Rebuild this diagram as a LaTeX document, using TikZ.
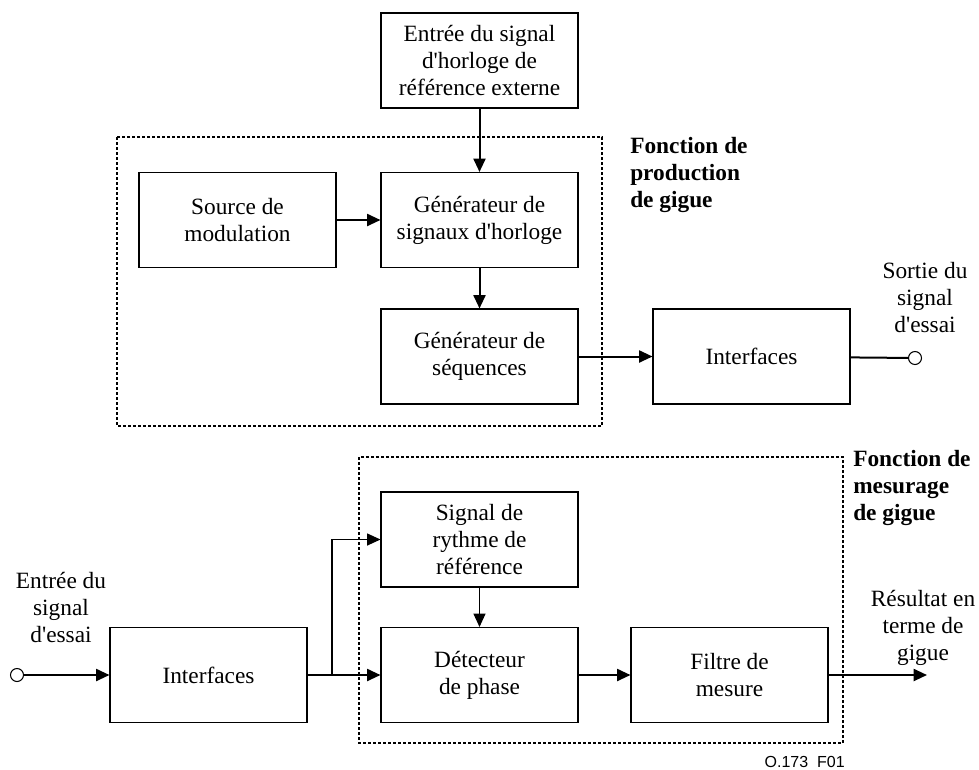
\documentclass[tikz,border=0pt]{standalone}
\usepackage{fontspec}
\setmainfont{Liberation Serif}[Ligatures=TeXOff]
\newfontfamily\figfont{Liberation Sans}
\usetikzlibrary{arrows.meta}
\def\boxw{147.75pt}
\def\boxh{71.25pt}
\tikzset{
  blk/.style={draw,line width=0.8pt,minimum width=\boxw,minimum height=\boxh,inner sep=0pt,align=center},
  lbl/.style={align=center,inner sep=0pt},
  grp/.style={line width=1.1pt,dash pattern=on 2.25pt off 1.5pt},
  flow/.style={line width=1.5pt,-{Triangle[length=10pt,width=9pt]}},
  feed/.style={line width=0.9pt,-{Triangle[length=10pt,width=9pt]}},
  term/.style={draw,circle,line width=0.8pt,minimum size=9.75pt,inner sep=0pt}
}

\begin{document}
\begin{tikzpicture}[x=0.75pt,y=-0.75pt,font=\fontsize{17.5pt}{20.25pt}\selectfont,line cap=butt]
  \useasboundingbox (0,0) rectangle (979,769);
  \draw[grp] (117,137) rectangle (602,426);
  \draw[grp] (359,457) rectangle (843,743);
  \node[blk] (ref) at (479.5,60.5) {Entrée du signal\\d'horloge de\\référence externe};
  \node[blk] (src) at (237.5,220) {Source de\\modulation};
  \node[blk] (gen) at (479.5,220) {Générateur de\\signaux d'horloge};
  \node[blk] (seq) at (479.5,356.5) {Générateur de\\séquences};
  \node[blk] (ifout) at (751.5,356.5) {Interfaces};
  \node[term] (outc) at (915,358) {};
  \node[lbl] (outl) at (925,298) {Sortie du\\signal\\d'essai};
  \node[lbl,align=left,anchor=west,font=\fontsize{17.5pt}{20.25pt}\selectfont\bfseries] (prodl) at (630,175) {Fonction de\\production\\de gigue};
  \node[blk] (ifin) at (208.5,675) {Interfaces};
  \node[blk] (rythme) at (479.5,539.5) {Signal de\\rythme de\\référence};
  \node[blk] (det) at (479.5,675) {Détecteur\\de phase};
  \node[blk] (filtre) at (729.5,675) {Filtre de\\mesure};
  \node[term] (inc) at (17,675) {};
  \node[lbl] (inl) at (61,607) {Entrée du\\signal\\d'essai};
  \node[lbl] (resl) at (923,628) {Résultat en\\terme de\\gigue};
  \node[lbl,align=left,anchor=west,font=\fontsize{17.5pt}{20.25pt}\selectfont\bfseries] (mesl) at (853,488) {Fonction de\\mesurage\\de gigue};
  \node[anchor=east,inner sep=0pt,font=\figfont\fontsize{12pt}{14pt}\selectfont] (fig) at (845,762) {O.173\ \ F01};
  \coordinate (br) at (332,675);
  \coordinate (res) at (927,675);
  \foreach \a/\b in {ref/gen, src/gen, gen/seq, seq/ifout, inc/ifin, ifin/det, det/filtre, filtre/res}
    \draw[flow] (\a) -- (\b);
  \draw[line width=1.5pt] (ifout) -- (outc);
  \draw[feed] (br) |- (rythme);
  \draw[feed] (rythme) -- (det);
\end{tikzpicture}
\end{document}
